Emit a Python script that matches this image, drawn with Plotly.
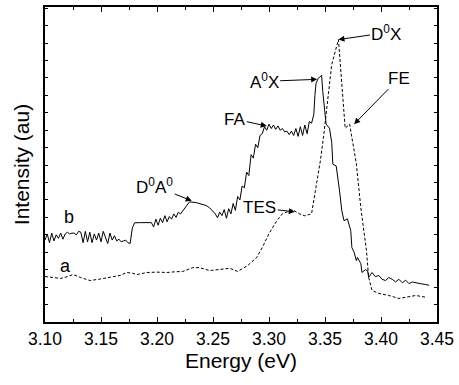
import plotly.graph_objects as go

# Curve a (dashed)
xa = [3.100, 3.107, 3.114, 3.120, 3.125, 3.132, 3.140, 3.148, 3.156, 3.167, 3.173, 3.178,
      3.182, 3.191, 3.200, 3.209, 3.216, 3.223, 3.232, 3.238, 3.247, 3.259, 3.265, 3.272,
      3.281, 3.289, 3.294, 3.300, 3.307, 3.312, 3.321, 3.327, 3.332, 3.338, 3.340, 3.343,
      3.346, 3.349, 3.352, 3.356, 3.362, 3.364, 3.366, 3.368, 3.372, 3.374, 3.378, 3.382,
      3.387, 3.389, 3.392, 3.398, 3.407, 3.416, 3.425, 3.431, 3.441]
ya = [2.61, 2.55, 2.50, 2.60, 2.72, 2.55, 2.38, 2.45, 2.55, 2.67, 2.84, 2.80,
      2.72, 2.84, 2.86, 2.84, 2.88, 2.90, 3.12, 3.12, 2.95, 3.01, 3.08, 2.90,
      3.24, 3.70, 4.27, 5.07, 5.81, 6.21, 6.44, 6.21, 6.09, 6.21, 6.95, 8.09,
      9.30, 10.78, 12.66, 14.77, 16.20, 14.55, 12.66, 11.12, 11.35, 10.55, 9.06, 6.55,
      4.10, 2.56, 1.81, 1.64, 1.52, 1.35, 1.47, 1.52, 1.41]

# Curve b (solid)
xb = [3.100, 3.102, 3.104, 3.106, 3.108, 3.110, 3.112, 3.114, 3.116, 3.118, 3.120, 3.122,
      3.124, 3.126, 3.128, 3.130, 3.132, 3.134, 3.136, 3.138, 3.140, 3.142, 3.144, 3.146,
      3.148, 3.150, 3.152, 3.154, 3.156, 3.158, 3.160, 3.162, 3.164, 3.166, 3.168, 3.170,
      3.172, 3.174, 3.176, 3.178, 3.180, 3.185, 3.190, 3.195, 3.197, 3.199, 3.201, 3.203,
      3.205, 3.207, 3.209, 3.211, 3.213, 3.215, 3.217, 3.219, 3.221, 3.224, 3.227, 3.229,
      3.235, 3.240, 3.244, 3.247, 3.250, 3.252, 3.254, 3.256, 3.258, 3.260, 3.262, 3.264,
      3.266, 3.268, 3.270, 3.272, 3.274, 3.276, 3.278, 3.280, 3.282, 3.284, 3.286, 3.288,
      3.290, 3.292, 3.294, 3.296, 3.298, 3.300, 3.302, 3.304, 3.306, 3.308, 3.310, 3.312,
      3.314, 3.316, 3.318, 3.320, 3.322, 3.324, 3.326, 3.328, 3.330, 3.332, 3.334, 3.336,
      3.338, 3.340, 3.341, 3.342, 3.344, 3.347, 3.348, 3.351, 3.354, 3.356, 3.357, 3.360,
      3.363, 3.365, 3.367, 3.370, 3.373, 3.374, 3.376, 3.378, 3.379, 3.382, 3.383, 3.386,
      3.388, 3.389, 3.392, 3.395, 3.398, 3.401, 3.404, 3.407, 3.410, 3.413, 3.416, 3.419,
      3.422, 3.425, 3.428, 3.431, 3.435, 3.440, 3.443]
yb = [4.70, 5.05, 4.55, 5.10, 4.65, 5.00, 4.80, 5.10, 4.75, 5.05, 5.15, 5.05,
      5.10, 5.10, 5.00, 5.20, 5.15, 4.55, 5.20, 4.60, 5.15, 4.55, 5.05, 4.70,
      5.10, 4.60, 5.20, 4.80, 4.50, 5.10, 4.70, 4.95, 4.65, 4.75, 4.60, 4.65,
      4.70, 4.55, 4.50, 5.40, 5.69, 5.70, 5.72, 5.70, 5.45, 5.90, 5.55, 5.95,
      5.70, 6.10, 5.75, 6.05, 5.90, 6.20, 6.00, 6.30, 6.20, 6.45, 6.75, 6.89,
      6.85, 6.78, 6.68, 6.55, 6.35, 6.21, 5.98, 6.30, 6.10, 6.45, 5.95, 6.50,
      6.20, 6.80, 6.40, 7.20, 7.00, 7.80, 7.70, 8.60, 8.40, 9.60, 9.40, 10.20,
      10.00, 10.70, 10.80, 11.20, 11.00, 11.35, 11.10, 11.30, 11.05, 11.25, 11.00, 11.10,
      10.90, 10.95, 10.75, 10.95, 10.70, 11.10, 10.65, 11.20, 10.70, 11.30, 10.80, 11.50,
      11.40, 11.90, 13.00, 13.69, 13.98, 14.15, 13.23, 11.35, 11.12, 10.30, 9.06, 8.95,
      7.52, 6.38, 5.81, 5.92, 5.24, 4.27, 4.00, 3.52, 3.70, 3.35, 2.84, 3.00,
      2.95, 2.56, 2.84, 2.60, 2.67, 2.45, 2.38, 2.55, 2.45, 2.30, 2.45, 2.25,
      2.40, 2.20, 2.30, 2.25, 2.20, 2.15, 2.10]

# Peak labels: (text, x, y, ax, ay)
labels = ["D<sup>0</sup>X", "A<sup>0</sup>X", "FE", "FA", "D<sup>0</sup>A<sup>0</sup>", "TES"]
label_x = [3.362, 3.343, 3.376, 3.298, 3.231, 3.323]
label_y = [16.20, 13.92, 11.35, 11.24, 6.95, 6.32]
label_offsets = [(48, -7), (-53, 2), (45, -46), (-32, -7), (-37, -15), (-35, -4)]

xtick_vals = [3.10, 3.15, 3.20, 3.25, 3.30, 3.35, 3.40, 3.45]
xtick_text = ["3.10", "3.15", "3.20", "3.25", "3.30", "3.35", "3.40", "3.45"]

FONT = "Liberation Sans, Arial, Helvetica, sans-serif"

fig = go.Figure()
fig.add_trace(go.Scatter(x=xa, y=ya, mode="lines",
                         line=dict(color="black", width=1, dash="3px,2px"), showlegend=False))
fig.add_trace(go.Scatter(x=xb, y=yb, mode="lines",
                         line=dict(color="black", width=1), showlegend=False))

for t, x, y, (ax, ay) in zip(labels, label_x, label_y, label_offsets):
    fig.add_annotation(x=x, y=y, text=t, showarrow=True, ax=ax, ay=ay,
                       arrowhead=2, arrowsize=1.2, arrowwidth=1, arrowcolor="black",
                       font=dict(family=FONT, size=17, color="black"))

fig.add_annotation(x=3.121, y=6.03, text="b", showarrow=False,
                   font=dict(family=FONT, size=18, color="black"))
fig.add_annotation(x=3.118, y=3.24, text="a", showarrow=False,
                   font=dict(family=FONT, size=18, color="black"))

fig.update_layout(
    width=459, height=385,
    margin=dict(l=45, r=21, t=5, b=63),
    paper_bgcolor="white", plot_bgcolor="white",
    font=dict(family=FONT, color="black"),
    xaxis=dict(range=[3.10, 3.45], tickvals=xtick_vals, ticktext=xtick_text,
               ticks="inside", ticklen=5, tickwidth=1.2, tickcolor="black",
               minor=dict(ticks="inside", dtick=0.025, tick0=3.10, ticklen=3, tickcolor="black"),
               showline=True, linecolor="black", linewidth=1.5, mirror="allticks",
               showgrid=False, zeroline=False,
               tickfont=dict(size=17.5, family=FONT),
               title=dict(text="Energy (eV)", font=dict(size=21, family=FONT), standoff=5)),
    yaxis=dict(range=[0, 18.07], tick0=0, dtick=1, showticklabels=False,
               ticks="inside", ticklen=3, tickwidth=1.2, tickcolor="black",
               showline=True, linecolor="black", linewidth=1.5, mirror="allticks",
               showgrid=False, zeroline=False,
               title=dict(text="Intensity (au)", font=dict(size=21, family=FONT), standoff=8)),
)

fig.write_html("out.html", config={"displayModeBar": False},
               post_script="document.body.style.margin='0';")
